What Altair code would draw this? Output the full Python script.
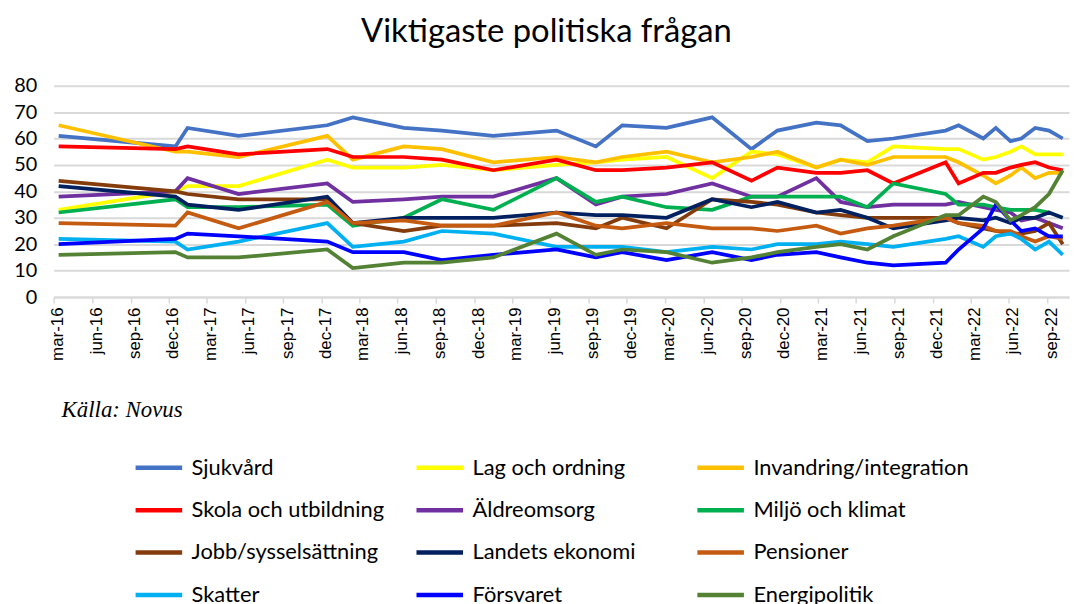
import altair as alt
import pandas as pd

dates = ["2016-03-13", "2016-12-17", "2017-01-15", "2017-05-17", "2017-12-15",
         "2018-02-14", "2018-06-16", "2018-09-15", "2019-01-16", "2019-06-16",
         "2019-09-18", "2019-11-20", "2020-03-05", "2020-06-22", "2020-09-24",
         "2020-11-25", "2021-02-26", "2021-04-25", "2021-06-28", "2021-08-29",
         "2022-01-01", "2022-02-01", "2022-04-01", "2022-05-01", "2022-06-05",
         "2022-07-01", "2022-08-03", "2022-09-05", "2022-10-08"]

sjukvard = [61, 57, 64, 61, 65, 68, 64, 63, 61, 63, 57, 65, 64, 68, 56, 63, 66, 65, 59, 60, 63, 65, 60, 64, 59, 60, 64, 63, 60]
lag = [33, 40, 42, 42, 52, 49, 49, 50, 48, 50, 51, 52, 53, 45, 55, 54, 49, 52, 51, 57, 56, 56, 52, 53, 55, 57, 54, 54, 54]
invandring = [65, 55, 55, 53, 61, 52, 57, 56, 51, 53, 51, 53, 55, 51, 53, 55, 49, 52, 50, 53, 53, 51, 46, 43, 46, 49, 45, 47, 47]
skola = [57, 56, 57, 54, 56, 53, 53, 52, 48, 52, 48, 48, 49, 51, 44, 49, 47, 47, 48, 43, 51, 43, 47, 47, 49, 50, 51, 49, 48]
aldre = [38, 40, 45, 39, 43, 36, 37, 38, 38, 45, 35, 38, 39, 43, 38, 38, 45, 36, 34, 35, 35, 36, 34, 33, 32, 29, 30, 28, 26]
miljo = [32, 37, 34, 34, 35, 27, 30, 37, 33, 45, 36, 38, 34, 33, 38, 38, 38, 38, 34, 43, 39, 35, 35, 34, 33, 33, 33, 32, None]
jobb = [44, 40, 39, 37, 37, 28, 25, 27, 27, 28, 26, 30, 26, 37, 36, 35, 32, 31, 30, 30, 30, 28, 26, 25, 24, 24, 25, 28, 20]
ekonomi = [42, 38, 35, 33, 38, 28, 30, 30, 30, 32, 31, 31, 30, 37, 34, 36, 32, 33, 30, 26, 29, 30, 29, 30, 28, 30, 30, 32, 30]
pensioner = [28, 27, 32, 26, 36, 28, 29, 27, 27, 32, 27, 26, 28, 26, 26, 25, 27, 24, 26, 27, 30, 28, 27, 25, 25, 23, 21, 23, 22]
skatter = [22, 21, 18, 21, 28, 19, 21, 25, 24, 19, 19, 19, 17, 19, 18, 20, 20, 21, 20, 19, 22, 23, 19, 23, 24, 22, 18, 21, 16]
forsvaret = [20, 22, 24, 23, 21, 17, 17, 14, 16, 18, 15, 17, 14, 17, 14, 16, 17, 15, 13, 12, 13, 18, 26, 35, 29, 25, 26, 23, 23]
energi = [16, 17, 15, 15, 18, 11, 13, 13, 15, 24, 16, 18, 17, 13, 15, 17, 19, 20, 18, 23, 31, 31, 38, 36, 29, 31, 34, 39, 48]

series_names = ["Sjukvård", "Lag och ordning", "Invandring/integration",
                "Skola och utbildning", "Äldreomsorg", "Miljö och klimat",
                "Jobb/sysselsättning", "Landets ekonomi", "Pensioner",
                "Skatter", "Försvaret", "Energipolitik"]
series_values = [sjukvard, lag, invandring, skola, aldre, miljo, jobb, ekonomi,
                 pensioner, skatter, forsvaret, energi]
series_colors = ["#4472C4", "#FFFF00", "#FFC000", "#FF0000", "#7030A0", "#00B050",
                 "#843C0C", "#002060", "#C55A11", "#00B0F0", "#0000FF", "#548235"]

tick_months = [(2016 + (2 + 3 * i) // 12, (2 + 3 * i) % 12 + 1) for i in range(27)]

rows = []
for si, (name, vals) in enumerate(zip(series_names, series_values)):
    for d, v in zip(dates, vals):
        if v is not None:
            rows.append({"datum": d, "andel": v, "fraga": name, "ordning": si})
df = pd.DataFrame(rows)

x_enc = alt.X(
    "datum:T",
    scale=alt.Scale(type="utc",
                    domain=[alt.DateTime(year=2016, month=3, date=1, utc=True),
                            alt.DateTime(year=2022, month=10, date=23, utc=True)]),
    axis=alt.Axis(
        title=None,
        values=[alt.DateTime(year=y, month=m, date=1, utc=True) for (y, m) in tick_months],
        labelExpr="lower(utcFormat(datum.value, '%b-%y'))",
        labelAngle=-90, labelAlign="right", labelBaseline="middle",
        labelFont="Liberation Sans", labelFontSize=17, labelColor="#000000",
        labelPadding=4, labelOffset=4, labelOverlap=False,
        grid=False, ticks=True, tickSize=6, tickColor="#D9D9D9", tickWidth=1.5,
        domain=True, domainColor="#D9D9D9", domainWidth=2,
    ),
)

y_enc = alt.Y(
    "andel:Q",
    scale=alt.Scale(domain=[0, 80], nice=False),
    axis=alt.Axis(
        title=None, values=[0, 10, 20, 30, 40, 50, 60, 70, 80],
        labelFont="Lato", labelFontSize=20, labelColor="#000000", labelPadding=17,
        ticks=False, domain=False, grid=True, gridColor="#D9D9D9", gridWidth=2,
    ),
)

lines = alt.Chart(df).mark_line(strokeWidth=3.75).encode(
    x=x_enc,
    y=y_enc,
    color=alt.Color(
        "fraga:N",
        scale=alt.Scale(domain=series_names, range=series_colors),
        sort=series_names,
        legend=alt.Legend(
            title=None, orient="none", legendX=80, legendY=359,
            direction="horizontal", columns=3, gridAlign="all",
            symbolType="stroke", symbolSize=2200, symbolStrokeWidth=4.5,
            labelFont="Lato", labelFontSize=22, labelColor="#000000",
            labelLimit=400, labelOffset=7, rowPadding=5.7, columnPadding=0,
        ),
    ),
    order=alt.Order("datum:T"),
)

source_df = pd.DataFrame({"text": ["Källa: Novus"]})
source = alt.Chart(source_df).mark_text(
    font="Liberation Serif", fontStyle="italic", fontSize=23, align="left",
    baseline="middle", color="#000000"
).encode(x=alt.value(8), y=alt.value(327), text="text:N")

chart = alt.layer(lines, source).properties(
    width=1023, height=213,
    padding={"left": 46, "top": 76, "right": 5, "bottom": 307},
    autosize=alt.AutoSizeParams(type="none"),
    title=alt.TitleParams("Viktigaste politiska frågan", font="Lato", fontSize=33,
                          fontWeight="normal", color="#000000", anchor="middle",
                          dx=-15, offset=27),
).configure_view(stroke=None)

chart.save("out.html", embed_options={"renderer": "svg", "actions": False})
